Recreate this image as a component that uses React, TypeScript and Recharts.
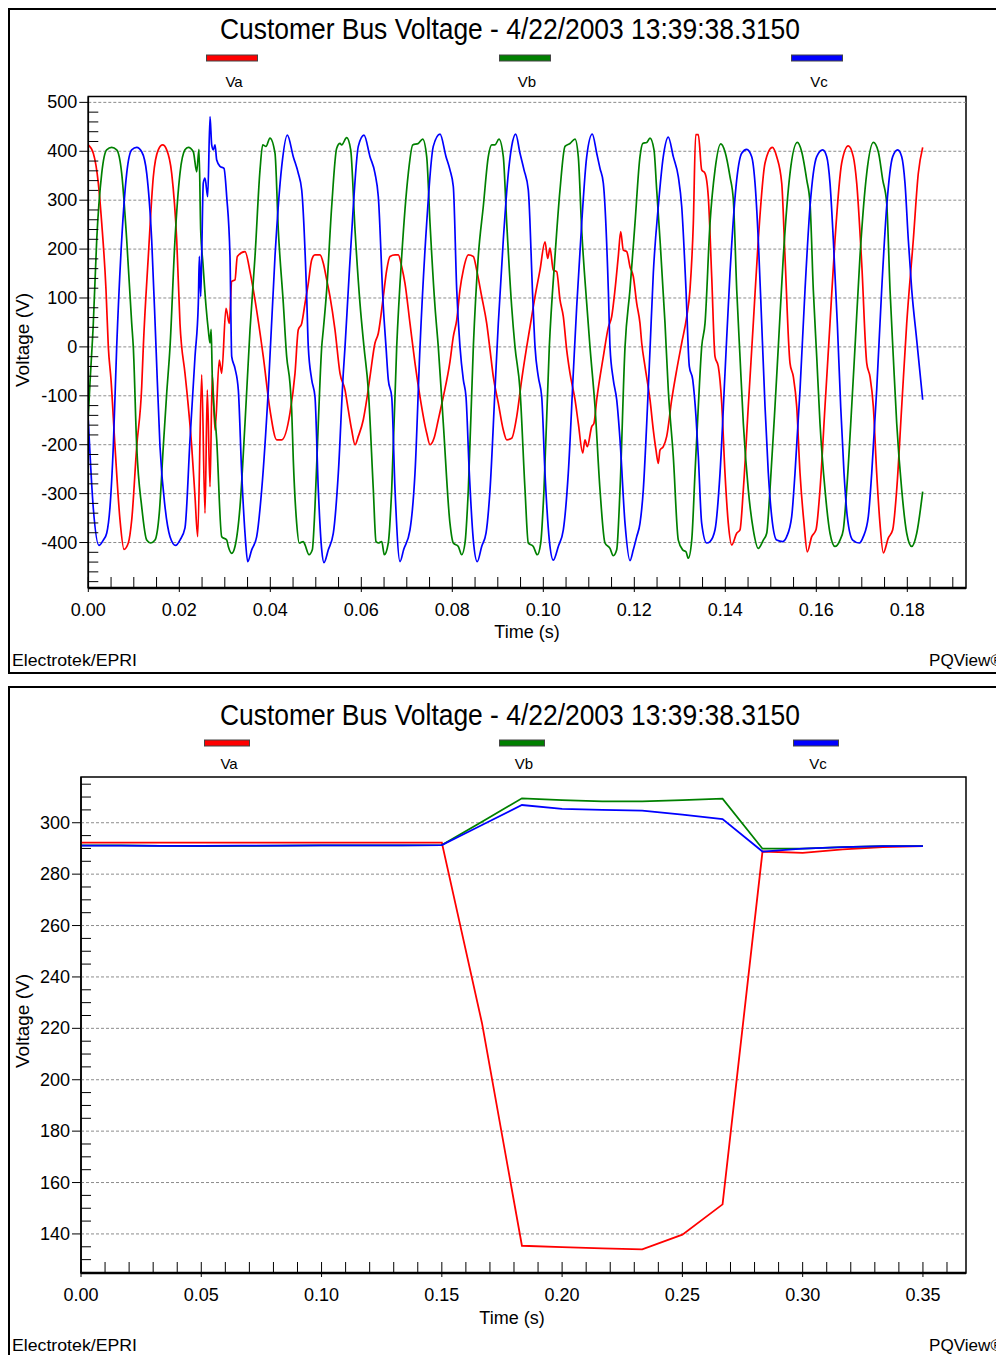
import React from 'react';
import { LineChart, Line, XAxis, YAxis, ReferenceLine, ReferenceArea } from 'recharts';

type P = [number, number];

// ---------- Top panel: instantaneous waveforms (time in ms, voltage in V) ----------
const VA_WAVE: P[] = [
  [0,413],[1.1,396],[2.2,335],[2.95,253],[3.89,117],[4.4,0],[4.99,-67],[5.87,-204],[6.97,-354],[7.85,-414],[8.79,-401],[9.54,-354],[10.64,-204],[11.74,-81],[12.09,0],[13.19,185],[14.29,348],[15.38,403],[16.35,413],[17.23,403],[18.33,355],[19.43,219],[20.15,48],[21.25,-54],[21.63,-88],[22.73,-204],[23.45,-306],[24.04,-388],[24.92,-57],[25.65,-340],[26.15,-88],[26.75,-286],[27.25,-57],[27.85,-170],[28.79,-27],[29.32,-54],[30.26,79],[30.99,48],[31.52,134],[32.24,137],[32.75,185],[34.44,195],[35.54,154],[36.26,117],[38.46,-20],[39.93,-129],[41.41,-190],[42.51,-190],[44.33,-135],[45.43,-54],[46.15,35],[46.9,48],[47.63,89],[48.35,130],[49.1,178],[49.82,188],[50.92,188],[51.65,171],[52.4,137],[53.12,103],[54.22,35],[55.32,-54],[56.42,-88],[57.14,-129],[57.89,-170],[58.62,-200],[59.34,-183],[60.44,-149],[61.19,-108],[61.91,-61],[63.01,8],[63.74,28],[64.84,103],[65.58,157],[66.31,185],[67.41,188],[68.13,188],[68.88,164],[69.6,130],[70.7,48],[71.8,-33],[72.9,-102],[74.37,-176],[75.1,-200],[75.98,-187],[76.92,-149],[78.02,-102],[79.49,-30],[80.22,21],[80.97,55],[81.69,117],[82.42,157],[83.52,188],[84.62,185],[85.36,157],[86.46,103],[87.56,48],[88.29,-6],[89.01,-61],[90.11,-115],[91.21,-170],[91.96,-190],[93.05,-187],[94.15,-143],[95.25,-67],[96.35,0],[97.08,41],[98.18,103],[99.27,157],[100.37,215],[100.97,181],[101.47,202],[102.2,157],[102.95,154],[103.67,96],[104.4,62],[105.14,-6],[105.87,-54],[106.97,-108],[107.69,-156],[108.66,-217],[109.16,-190],[109.67,-204],[110.64,-163],[111.14,-156],[111.74,-108],[113.19,-20],[114.29,40],[115.03,62],[115.76,117],[116.48,185],[117.01,236],[117.58,198],[118.33,195],[119.05,164],[119.78,144],[120.53,89],[121.25,48],[121.63,8],[122.35,-40],[123.45,-108],[124.18,-170],[124.77,-211],[125.27,-238],[125.65,-211],[126.37,-204],[127.12,-183],[128.22,-108],[129.32,-47],[130.42,8],[131.52,62],[132.24,117],[132.97,253],[133.49,434],[134.07,434],[134.81,362],[135.54,355],[136.26,307],[137.01,144],[137.74,-20],[138.46,-40],[139.21,-115],[139.93,-258],[140.66,-361],[141.41,-405],[142.51,-381],[143.23,-374],[143.96,-292],[145.05,-122],[146.15,48],[147.25,219],[148.73,376],[150.33,408],[151.3,389],[152.4,335],[153.12,185],[154.22,-33],[154.95,-61],[155.69,-122],[156.42,-258],[157.3,-361],[158.02,-419],[158.99,-388],[159.93,-374],[160.81,-292],[161.91,-122],[163.01,48],[164.11,219],[165.58,376],[167.03,411],[168.13,389],[168.88,335],[169.98,171],[171.08,-33],[171.8,-61],[172.53,-122],[173.27,-258],[173.99,-361],[174.73,-421],[175.82,-391],[176.79,-374],[177.67,-292],[178.77,-122],[179.87,48],[181.32,219],[182.42,355],[183.38,408],
];

const VB_WAVE: P[] = [
  [0,-140],[0.37,-74],[1.1,48],[1.85,219],[2.95,355],[4.04,403],[5.14,408],[6.24,403],[7.34,355],[8.44,219],[9.54,48],[9.89,0],[10.64,-204],[11.74,-327],[12.84,-395],[13.71,-401],[14.66,-395],[15.6,-340],[16.48,-204],[17.23,-95],[17.96,0],[19.05,219],[20.15,355],[21.25,403],[21.98,408],[23.08,399],[23.82,358],[24.33,404],[24.7,239],[25.2,170],[25.9,80],[26.37,35],[26.75,8],[27.0,36],[27.25,-61],[28.22,-190],[29.32,-388],[30.42,-395],[30.77,-408],[31.52,-422],[32.24,-408],[33.34,-327],[34.44,-156],[35.54,35],[36.64,185],[37.74,362],[38.33,413],[39.05,410],[39.93,427],[41.03,396],[41.76,239],[42.86,89],[43.6,-20],[44.33,-75],[44.7,-129],[45.05,-230],[45.8,-361],[46.37,-401],[47.25,-398],[47.63,-405],[48.51,-425],[49.23,-415],[49.82,-327],[50.55,-156],[51.3,0],[51.65,35],[52.4,117],[53.49,287],[54.59,406],[55.32,416],[55.69,413],[56.79,428],[57.67,403],[58.62,239],[59.71,89],[60.59,0],[61.54,-88],[62.64,-292],[63.23,-398],[63.74,-401],[64.5,-398],[65.05,-425],[65.93,-401],[66.68,-292],[67.78,0],[68.88,185],[70.33,355],[71.3,413],[72.53,416],[73.49,425],[74.37,389],[75.1,253],[76.2,82],[76.92,0],[78.02,-156],[79.49,-361],[80.22,-401],[81.32,-408],[82.07,-425],[82.79,-401],[83.52,-292],[84.62,0],[85.71,185],[86.81,287],[87.91,389],[88.66,413],[89.38,413],[90.26,425],[91.21,389],[91.96,253],[93.05,82],[93.78,0],[94.88,-88],[95.98,-292],[96.7,-401],[97.8,-408],[98.68,-425],[99.43,-401],[100.15,-292],[101.32,0],[102.57,185],[103.67,321],[104.77,410],[105.87,416],[106.97,425],[107.69,389],[108.44,239],[109.54,89],[110.26,0],[111.36,-122],[112.46,-292],[113.56,-401],[114.66,-412],[115.38,-427],[116.13,-415],[116.86,-292],[117.96,0],[119.05,117],[120.15,253],[121.25,389],[121.85,416],[122.73,418],[123.45,427],[124.33,403],[124.92,321],[125.65,219],[126.75,48],[127.47,-88],[128.57,-224],[129.67,-395],[130.64,-415],[131.36,-419],[131.87,-432],[132.62,-395],[133.34,-258],[134.07,-122],[134.81,0],[135.54,48],[136.64,253],[137.74,362],[138.99,415],[139.93,399],[141.03,348],[141.76,301],[142.51,117],[143.23,-20],[143.96,-156],[145.05,-292],[146.15,-374],[147.25,-412],[148.35,-395],[149.1,-381],[149.82,-292],[150.92,-122],[151.65,0],[152.75,185],[154.22,355],[155.82,418],[156.79,399],[157.89,342],[158.62,294],[159.34,117],[160.09,-20],[160.81,-156],[161.91,-292],[163.01,-381],[164.11,-408],[165.21,-395],[165.93,-374],[166.68,-292],[167.78,-122],[168.51,0],[169.6,185],[171.08,355],[172.53,418],[173.63,399],[174.59,342],[175.47,294],[176.2,117],[176.92,-20],[177.67,-156],[178.77,-292],[179.87,-381],[180.97,-408],[182.07,-381],[183.38,-296],
];

const VC_WAVE: P[] = [
  [0,-150],[1.1,-330],[2.35,-406],[3.3,-395],[4.04,-381],[4.77,-327],[5.49,-204],[6.24,0],[7.34,219],[8.44,355],[9.54,403],[10.64,408],[11.74,399],[12.84,355],[13.93,219],[14.88,0],[15.76,-204],[16.86,-327],[17.96,-388],[19.21,-406],[20.15,-395],[21.25,-370],[22.35,-190],[23.45,-20],[24.18,89],[24.4,185],[24.7,103],[24.92,185],[25.27,335],[25.65,345],[26.24,307],[26.75,471],[27.12,413],[27.47,403],[27.85,413],[28.22,382],[28.95,369],[29.82,365],[30.42,307],[31.14,185],[31.52,-20],[32.24,-44],[32.97,-88],[33.71,-258],[34.44,-381],[35.03,-439],[35.91,-415],[37.01,-388],[38.11,-292],[39.56,-88],[41.03,185],[42.51,369],[43.74,433],[45.05,389],[46.15,355],[46.9,321],[48.0,103],[48.35,0],[49.1,-67],[49.82,-102],[50.55,-292],[51.3,-415],[51.8,-441],[52.75,-415],[53.85,-381],[54.95,-258],[56.04,-54],[56.42,0],[57.14,117],[58.24,287],[59.34,410],[60.59,433],[61.91,389],[63.01,355],[63.74,307],[64.84,82],[65.43,0],[65.93,-67],[66.68,-102],[67.41,-292],[68.51,-439],[69.3,-415],[70.7,-374],[71.8,-258],[72.9,0],[74.37,253],[75.82,410],[77.3,435],[78.62,389],[79.49,362],[80.22,328],[80.97,117],[81.69,0],[82.42,-67],[83.01,-102],[83.74,-258],[84.62,-395],[85.49,-439],[86.46,-408],[87.41,-381],[88.29,-292],[89.38,-88],[90.11,48],[91.21,219],[92.31,355],[93.05,410],[93.93,435],[94.88,396],[95.76,362],[96.7,321],[97.67,103],[98.18,0],[98.9,-61],[99.65,-102],[100.37,-258],[101.32,-395],[102.2,-436],[103.3,-408],[104.4,-374],[105.49,-258],[106.59,-54],[107.34,82],[108.44,253],[109.54,389],[110.77,435],[111.74,396],[112.46,365],[113.19,335],[114.29,117],[114.66,0],[115.38,-67],[116.13,-108],[116.86,-190],[117.96,-361],[119.05,-437],[119.78,-415],[120.53,-388],[121.25,-361],[121.98,-292],[122.73,-156],[123.45,-6],[124.18,151],[125.27,287],[126.37,389],[127.47,429],[128.57,389],[129.67,348],[130.42,287],[131.36,117],[132.09,-40],[132.84,-67],[133.56,-143],[134.07,-224],[134.81,-361],[135.91,-401],[136.64,-398],[137.74,-374],[138.84,-258],[139.93,-54],[141.03,151],[142.51,342],[143.6,396],[144.7,404],[145.8,389],[146.53,335],[147.25,219],[148.0,48],[148.73,-122],[149.45,-258],[150.2,-347],[151.3,-395],[152.62,-398],[153.49,-388],[154.59,-347],[155.32,-258],[156.42,-88],[157.52,117],[158.62,287],[160.09,389],[161.41,403],[162.29,389],[163.01,335],[163.74,219],[164.62,48],[165.36,-122],[166.09,-258],[166.81,-347],[168.0,-395],[169.45,-401],[170.33,-388],[171.43,-347],[172.18,-258],[173.27,-88],[174.37,117],[175.47,287],[176.79,389],[177.89,403],[178.77,389],[179.49,335],[180.22,219],[180.97,117],[182.07,14],[183.38,-108],
];

// ---------- Bottom panel: RMS values (time in s) ----------
const RMS_T = [0, 0.0167, 0.0333, 0.05, 0.0667, 0.0833, 0.1, 0.1167, 0.1333, 0.15, 0.1667, 0.1833, 0.2, 0.2167, 0.2333, 0.25, 0.2667, 0.2833, 0.3, 0.3167, 0.3333, 0.35];
const RMS_VA = [292.3, 292.3, 292.3, 292.3, 292.3, 292.3, 292.3, 292.3, 292.3, 292.3, 222, 135.4, 134.9, 134.4, 134.0, 139.7, 151.5, 288.8, 288.3, 289.6, 290.5, 290.9];
const RMS_VB = [291.2, 291.2, 291.0, 290.9, 291.0, 291.1, 291.2, 291.2, 291.2, 291.3, 300.4, 309.5, 308.8, 308.3, 308.3, 308.8, 309.4, 289.9, 289.9, 290.5, 290.9, 290.9];
const RMS_VC = [291.1, 291.1, 291.0, 291.0, 291.1, 291.1, 291.2, 291.2, 291.2, 291.3, 299.1, 306.9, 305.4, 305.0, 304.7, 303.2, 301.4, 288.8, 289.9, 290.5, 290.9, 290.9];

// ---------- Labels / ticks ----------
const SERIES_NAMES = ['Va', 'Vb', 'Vc'];
const SERIES_COLORS = ['#ff0000', '#008000', '#0000ff'];
const TITLE = 'Customer Bus Voltage - 4/22/2003 13:39:38.3150';

const TOP_X_DOMAIN: [number, number] = [0, 192.9];
const TOP_X_MAJOR = [0, 20, 40, 60, 80, 100, 120, 140, 160, 180];
const TOP_X_LABELS = ['0.00', '0.02', '0.04', '0.06', '0.08', '0.10', '0.12', '0.14', '0.16', '0.18'];
const TOP_Y_DOMAIN: [number, number] = [-493, 512];
const TOP_Y_MAJOR = [-400, -300, -200, -100, 0, 100, 200, 300, 400, 500];

const BOT_X_DOMAIN: [number, number] = [0, 0.3679];
const BOT_X_MAJOR = [0, 0.05, 0.1, 0.15, 0.2, 0.25, 0.3, 0.35];
const BOT_X_LABELS = ['0.00', '0.05', '0.10', '0.15', '0.20', '0.25', '0.30', '0.35'];
const BOT_Y_DOMAIN: [number, number] = [124.8, 317.8];
const BOT_Y_MAJOR = [140, 160, 180, 200, 220, 240, 260, 280, 300];

const FONT = '"Liberation Sans", Arial, sans-serif';

const steps = (a: number, b: number, step: number) => {
  const out: number[] = [];
  for (let i = 0; a + i * step <= b + 1e-9; i++) out.push(Math.round((a + i * step) * 10000) / 10000);
  return out;
};
const TOP_X_TICKS = steps(0, 190, 5);
const TOP_Y_TICKS = steps(-480, 500, 20);
const BOT_X_TICKS = steps(0, 0.36, 0.01);
const BOT_Y_TICKS = steps(125, 315, 5);

const toRows = (pts: P[]) => pts.map(([t, v]) => ({ t, v }));
const rmsRows = (vals: number[]) => RMS_T.map((t, i) => ({ t, v: vals[i] }));

const WAVES = [toRows(VA_WAVE), toRows(VB_WAVE), toRows(VC_WAVE)];
const RMS = [rmsRows(RMS_VA), rmsRows(RMS_VB), rmsRows(RMS_VC)];

const findIdx = (arr: number[], v: number) => arr.findIndex((m) => Math.abs(m - v) < 1e-6);

function makeXTick(majors: number[], labels: string[]) {
  return (props: any) => {
    const { x, y, payload } = props;
    const idx = findIdx(majors, payload.value);
    const major = idx >= 0;
    return (
      <g>
        <line x1={x} x2={x} y1={y - 11} y2={y + (major ? 4 : 0)} stroke="#000" strokeWidth={1} />
        {major && (
          <text x={x} y={y + 22} textAnchor="middle" dominantBaseline="central" fontSize={18} fontFamily={FONT} fill="#000">
            {labels[idx]}
          </text>
        )}
      </g>
    );
  };
}

function makeYTick(majors: number[]) {
  return (props: any) => {
    const { x, y, payload } = props;
    const major = findIdx(majors, payload.value) >= 0;
    return (
      <g>
        {major ? (
          <line x1={x - 9} x2={x} y1={y} y2={y} stroke="#000" strokeWidth={1} />
        ) : (
          <line x1={x} x2={x + 10} y1={y} y2={y} stroke="#000" strokeWidth={1} />
        )}
        {major && (
          <text x={x - 11} y={y} textAnchor="end" dominantBaseline="central" fontSize={18} fontFamily={FONT} fill="#000">
            {payload.value}
          </text>
        )}
      </g>
    );
  };
}

function PanelText({ oy, legendX, swW, labelY, swY, yLabelY, xLabelX, xLabelY, footY }: any) {
  return (
    <g fontFamily={FONT} fill="#000">
      <text x={502} y={oy + 20} textAnchor="middle" dominantBaseline="central" fontSize={30} textLength={580} lengthAdjust="spacingAndGlyphs">
        {TITLE}
      </text>
      {SERIES_NAMES.map((n, i) => (
        <g key={n}>
          <rect x={legendX[i] - swW / 2} y={swY} width={swW} height={6} fill={SERIES_COLORS[i]} stroke="#444" strokeWidth={1} />
          <text x={legendX[i] + 2} y={labelY} textAnchor="middle" dominantBaseline="central" fontSize={15}>
            {n}
          </text>
        </g>
      ))}
      <text x={14} y={yLabelY} textAnchor="middle" dominantBaseline="central" fontSize={19} transform={`rotate(-90 14 ${yLabelY})`}>
        Voltage (V)
      </text>
      <text x={xLabelX} y={xLabelY} textAnchor="middle" dominantBaseline="central" fontSize={18}>
        Time (s)
      </text>
      <text x={4} y={footY} dominantBaseline="central" fontSize={17} textLength={125} lengthAdjust="spacingAndGlyphs">
        Electrotek/EPRI
      </text>
      <text x={995} y={footY} textAnchor="end" dominantBaseline="central" fontSize={16} textLength={74} lengthAdjust="spacingAndGlyphs">
        PQView®
      </text>
    </g>
  );
}

export default function App() {
  return (
    <div style={{ position: 'relative', width: 996, height: 1347, overflow: 'hidden', background: '#fff', fontFamily: FONT }}>
      <style>{'html,body{overflow:hidden}'}</style>
      <div style={{ position: 'absolute', left: 0, top: 0, width: 1000, height: 666, border: '2px solid #000', boxSizing: 'border-box' }} />
      <div style={{ position: 'absolute', left: 0, top: 678, width: 1000, height: 690, border: '2px solid #000', boxSizing: 'border-box' }} />

      <div style={{ position: 'absolute', left: 0, top: 0 }}>
        <LineChart width={996} height={666} margin={{ top: 88.5, right: 38, bottom: 56, left: 40.3 }}>
          <XAxis dataKey="t" type="number" domain={TOP_X_DOMAIN} ticks={TOP_X_TICKS} interval={0} allowDataOverflow
            height={30} tickSize={0} tickMargin={0} tickLine={false} axisLine={{ stroke: '#000', strokeWidth: 2.5 }}
            tick={makeXTick(TOP_X_MAJOR, TOP_X_LABELS)} />
          <YAxis type="number" domain={TOP_Y_DOMAIN} ticks={TOP_Y_TICKS} interval={0} allowDataOverflow
            width={40} tickSize={0} tickMargin={0} tickLine={false} axisLine={{ stroke: '#000', strokeWidth: 1.5 }}
            tick={makeYTick(TOP_Y_MAJOR)} />
          {TOP_Y_MAJOR.map((v) => (
            <ReferenceLine key={v} y={v} stroke="#8c8c8c" strokeDasharray="3 2" strokeWidth={1} />
          ))}
          <ReferenceArea x1={TOP_X_DOMAIN[0]} x2={TOP_X_DOMAIN[1]} y1={TOP_Y_DOMAIN[0]} y2={TOP_Y_DOMAIN[1]} fill="none" fillOpacity={0} stroke="#000" strokeWidth={1.5} />
          {WAVES.map((d, i) => (
            <Line key={SERIES_NAMES[i]} data={d} dataKey="v" name={SERIES_NAMES[i]} type="monotone" stroke={SERIES_COLORS[i]}
              strokeWidth={1.7} dot={false} activeDot={false} isAnimationActive={false} />
          ))}
        </LineChart>
      </div>

      <div style={{ position: 'absolute', left: 0, top: 678 }}>
        <LineChart width={996} height={669} margin={{ top: 91, right: 38, bottom: 52, left: 33 }}>
          <XAxis dataKey="t" type="number" domain={BOT_X_DOMAIN} ticks={BOT_X_TICKS} interval={0} allowDataOverflow
            height={30} tickSize={0} tickMargin={0} tickLine={false} axisLine={{ stroke: '#000', strokeWidth: 2.5 }}
            tick={makeXTick(BOT_X_MAJOR, BOT_X_LABELS)} />
          <YAxis type="number" domain={BOT_Y_DOMAIN} ticks={BOT_Y_TICKS} interval={0} allowDataOverflow
            width={40} tickSize={0} tickMargin={0} tickLine={false} axisLine={{ stroke: '#000', strokeWidth: 1.5 }}
            tick={makeYTick(BOT_Y_MAJOR)} />
          {BOT_Y_MAJOR.map((v) => (
            <ReferenceLine key={v} y={v} stroke="#8c8c8c" strokeDasharray="3 2" strokeWidth={1} />
          ))}
          <ReferenceArea x1={BOT_X_DOMAIN[0]} x2={BOT_X_DOMAIN[1]} y1={BOT_Y_DOMAIN[0]} y2={BOT_Y_DOMAIN[1]} fill="none" fillOpacity={0} stroke="#000" strokeWidth={1.5} />
          {RMS.map((d, i) => (
            <Line key={SERIES_NAMES[i]} data={d} dataKey="v" name={SERIES_NAMES[i]} type="linear" stroke={SERIES_COLORS[i]}
              strokeWidth={1.8} dot={false} activeDot={false} isAnimationActive={false} />
          ))}
        </LineChart>
      </div>

      <svg width={996} height={1347} style={{ position: 'absolute', left: 0, top: 0, pointerEvents: 'none' }}>
        <PanelText oy={0} legendX={[224, 517, 809]} swW={51} swY={47} labelY={73} yLabelY={332} xLabelX={519} xLabelY={624} footY={652} />
        <PanelText oy={686} legendX={[219, 514, 808]} swW={45} swY={732} labelY={755} yLabelY={1013} xLabelX={504} xLabelY={1310} footY={1337} />
      </svg>
    </div>
  );
}
